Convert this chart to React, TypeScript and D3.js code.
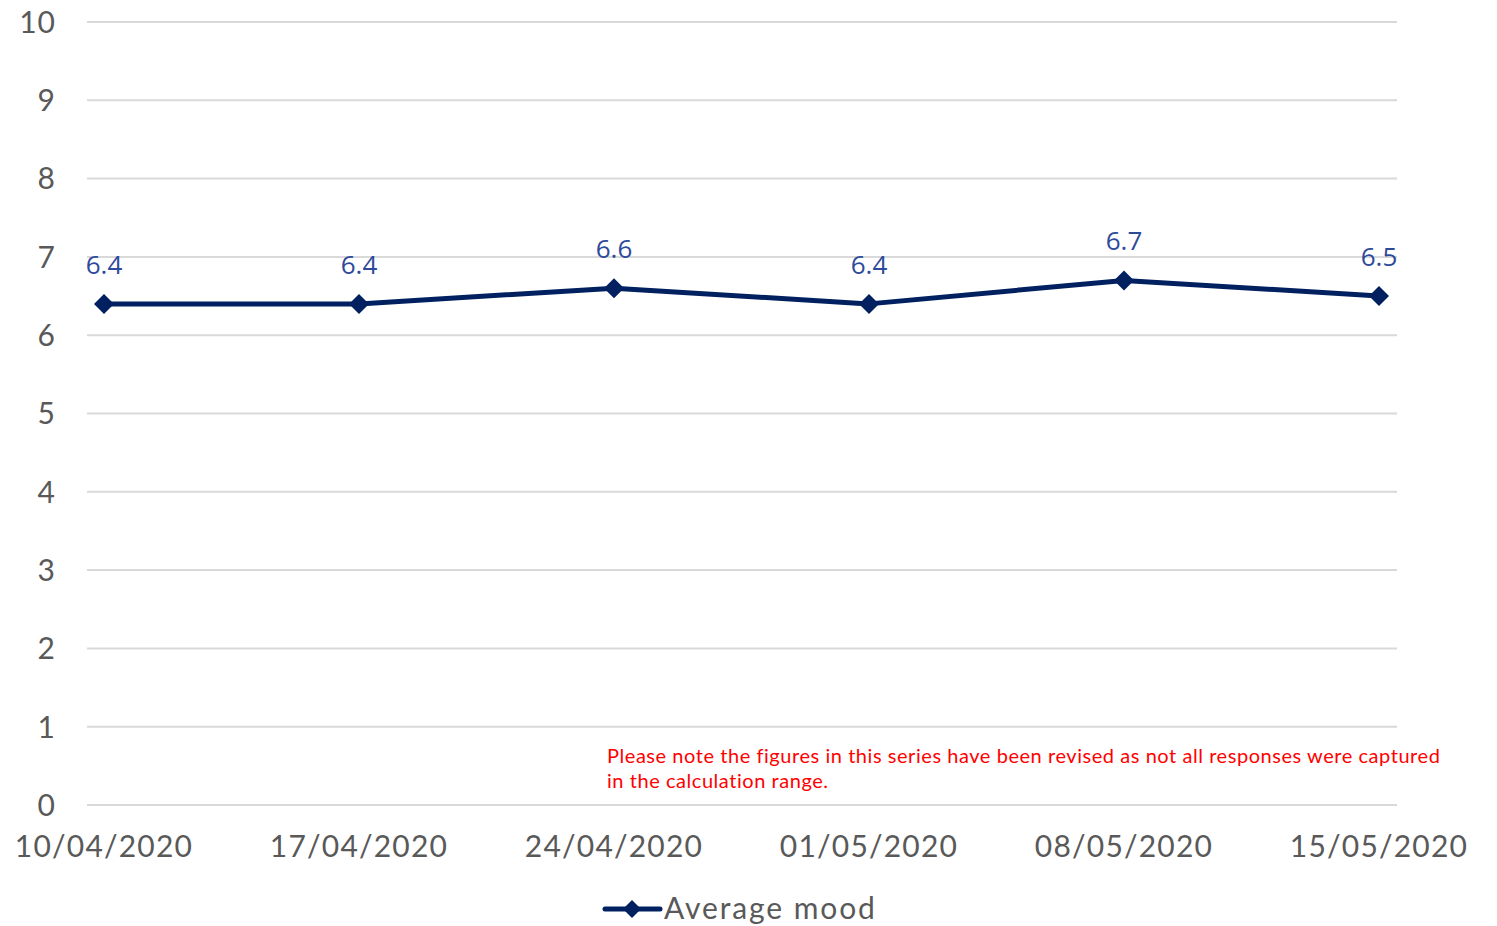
import React from "react";
import * as d3 from "d3";

const dates = ["10/04/2020", "17/04/2020", "24/04/2020", "01/05/2020", "08/05/2020", "15/05/2020"];
const averageMood = [6.4, 6.4, 6.6, 6.4, 6.7, 6.5];
const yTicks = [0, 1, 2, 3, 4, 5, 6, 7, 8, 9, 10];
const seriesName = "Average mood";
const noteLines = [
  "Please note the figures in this series have been revised as not all responses were captured",
  "in the calculation range.",
];

const W = 1497;
const H = 926;
const font = "Lato, 'DejaVu Sans', sans-serif";

export default function App() {
  const x = d3.scalePoint<string>().domain(dates).range([104, 1379]);
  const y = d3.scaleLinear().domain([0, 10]).range([805, 22]);

  const line = d3
    .line<number>()
    .x((_, i) => x(dates[i]) as number)
    .y((d) => y(d));

  const diamond = (cx: number, cy: number, r: number) =>
    `M${cx},${cy - r}L${cx + r},${cy}L${cx},${cy + r}L${cx - r},${cy}Z`;

  return (
    <svg width={W} height={H} style={{ position: "absolute", left: 0, top: 0, background: "#fff" }}>
      {yTicks.map((t) => (
        <g key={t}>
          <line x1={87} x2={1397} y1={y(t)} y2={y(t)} stroke="#d9d9d9" strokeWidth={2} />
          <text x={56} y={y(t)} dy="0.36em" textAnchor="end" fontFamily={font} fontSize={30} fill="#595959" letterSpacing={1}>
            {t}
          </text>
        </g>
      ))}

      {dates.map((d) => (
        <text key={d} x={x(d)} y={857} textAnchor="middle" fontFamily={font} fontSize={30} fill="#595959" letterSpacing={1.2}>
          {d}
        </text>
      ))}

      <path d={line(averageMood) || ""} fill="none" stroke="#002060" strokeWidth={5} strokeLinejoin="round" />
      {averageMood.map((v, i) => (
        <g key={i}>
          <path d={diamond(x(dates[i]) as number, y(v), 10)} fill="#002060" />
          <text
            x={x(dates[i])}
            y={y(v) - 30}
            textAnchor="middle"
            fontFamily="'Open Sans', 'DejaVu Sans', sans-serif"
            fontSize={26}
            fill="#2e4a9a"
          >
            {v.toFixed(1)}
          </text>
        </g>
      ))}

      {noteLines.map((l, i) => (
        <text key={i} x={607} y={763 + i * 25} fontFamily={font} fontSize={20} fill="#ff0000" letterSpacing={0.55}>
          {l}
        </text>
      ))}

      <line x1={605} x2={660} y1={909} y2={909} stroke="#002060" strokeWidth={5} strokeLinecap="round" />
      <path d={diamond(632, 909, 9)} fill="#002060" />
      <text x={664} y={919} fontFamily={font} fontSize={30} fill="#595959" letterSpacing={1.9}>
        {seriesName}
      </text>
    </svg>
  );
}
